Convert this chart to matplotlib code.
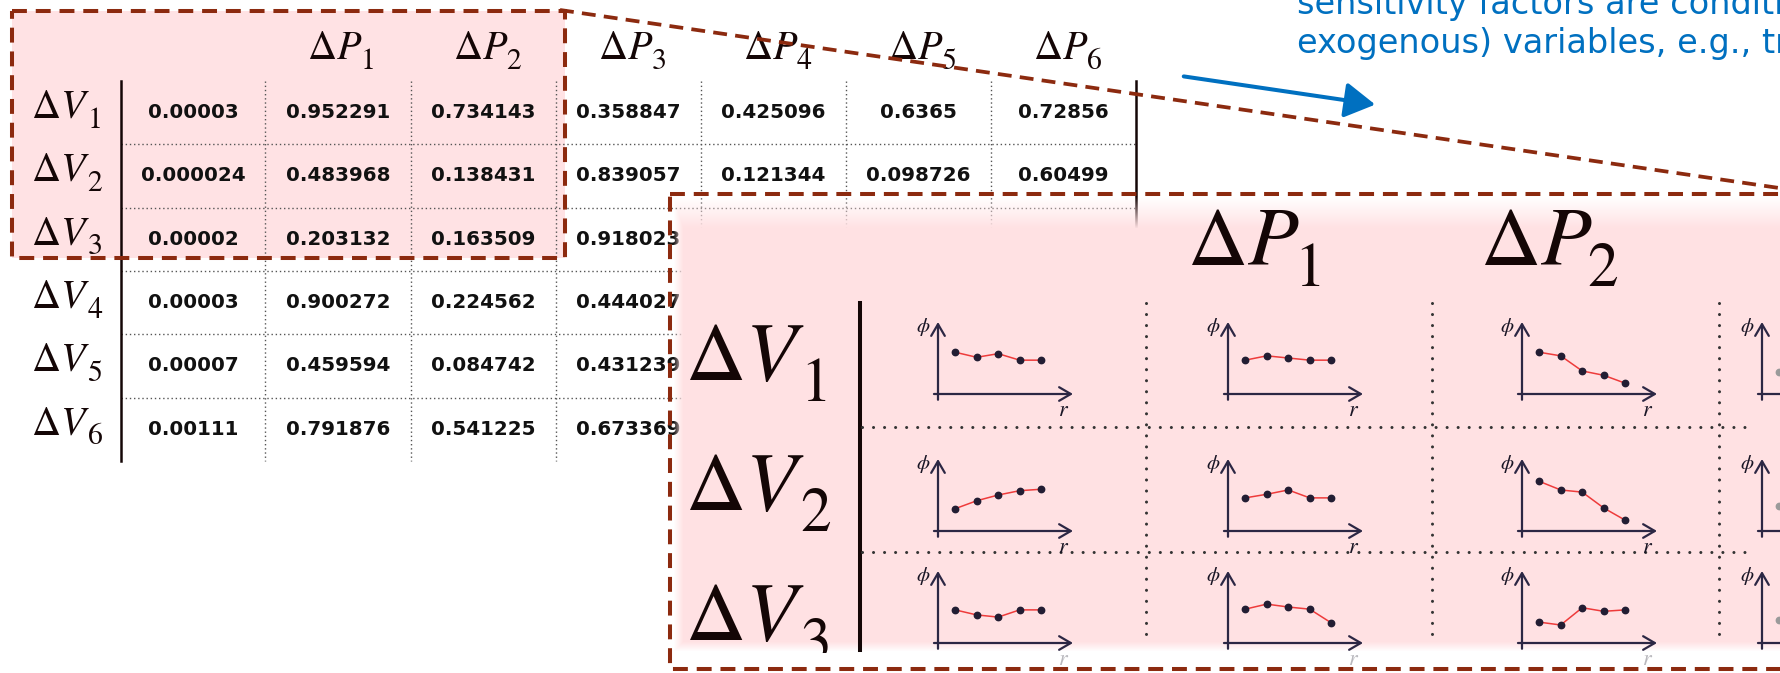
import numpy as np
import matplotlib
matplotlib.use('Agg')
import matplotlib.pyplot as plt
from matplotlib.patches import Rectangle, FancyArrowPatch

plt.rcParams['mathtext.fontset'] = 'stix'

# ---------------- data ----------------
row_symbol = r'$\Delta V$'
row_index = ['1', '2', '3', '4', '5', '6']
col_symbol = r'$\Delta P$'
col_index = ['', '1', '2', '3', '4', '5', '6']
row_V1 = ['0.00003', '0.952291', '0.734143', '0.358847', '0.425096', '0.6365', '0.72856']
row_V2 = ['0.000024', '0.483968', '0.138431', '0.839057', '0.121344', '0.098726', '0.60499']
row_V3 = ['0.00002', '0.203132', '0.163509', '0.918023', None, None, None]
row_V4 = ['0.00003', '0.900272', '0.224562', '0.444027', None, None, None]
row_V5 = ['0.00007', '0.459594', '0.084742', '0.431239', None, None, None]
row_V6 = ['0.00111', '0.791876', '0.541225', '0.673369', None, None, None]
table_rows = [row_V1, row_V2, row_V3, row_V4, row_V5, row_V6]

zoom_row_index = ['1', '2', '3']
zoom_col_index = ['1', '2']
r_index = [1, 2, 3, 4, 5]
phi_V1 = [[0.58, 0.51, 0.56, 0.47, 0.47],
          [0.47, 0.53, 0.50, 0.47, 0.47],
          [0.58, 0.53, 0.32, 0.26, 0.15],
          [0.31]]
phi_V2 = [[0.31, 0.42, 0.50, 0.56, 0.58],
          [0.46, 0.51, 0.57, 0.46, 0.46],
          [0.69, 0.57, 0.54, 0.32, 0.15],
          [0.35]]
phi_V3 = [[0.46, 0.39, 0.36, 0.46, 0.46],
          [0.47, 0.54, 0.50, 0.47, 0.28],
          [0.29, 0.25, 0.49, 0.44, 0.46],
          [0.32]]
phi_rows = [phi_V1, phi_V2, phi_V3]

text_line1 = 'sensitivity factors are conditi'
text_line2 = 'exogenous) variables, e.g., tr'

# ---------------- style ----------------
W, H = 1780, 673
PINK = (1.0, 0.886, 0.894)
BROWN = '#8c2a0f'
INK = '#140606'
BLUE = '#0070c0'
AXC = '#2c2744'
DASH = (0, (3.7, 2.2))

fig = plt.figure(figsize=(W / 100, H / 100), dpi=100)
ax = fig.add_axes([0, 0, 1, 1])
ax.set_xlim(0, W)
ax.set_ylim(H, 0)
ax.axis('off')


def sub_label(x, y, main, sub, fs, z, clip=None):
    """Main symbol centred at x (baseline y) with a large, low subscript."""
    t = ax.text(x, y, main, fontsize=fs, color=INK, ha='center', va='baseline', zorder=z)
    s = ax.annotate(r'$%s$' % sub, xy=(1, y), xycoords=(t, 'data'),
                    xytext=(-0.06 * fs, -0.25 * fs), textcoords='offset points',
                    fontsize=0.74 * fs, color=INK, ha='left', va='baseline',
                    zorder=z, annotation_clip=False)
    if clip is not None:
        t.set_clip_path(clip)
        s.set_clip_path(clip)


# ---------------- small table ----------------
col_edges = [121, 265, 411, 556, 701, 846, 991, 1136]
row_top, row_h = 81, 63.3
row_c = [row_top + row_h * (i + 0.5) for i in range(len(row_index))]
tbl_bottom = row_top + row_h * len(row_index)

ax.add_patch(Rectangle((12, 11), 553, 247, facecolor=PINK, edgecolor='none', zorder=0))

for i, idx in enumerate(row_index):
    sub_label(60, row_c[i] + 5, row_symbol, idx, 29, 2)
for j, idx in enumerate(col_index):
    if idx:
        cx = (col_edges[j] + col_edges[j + 1]) / 2
        sub_label(cx - 3, 59, col_symbol, idx, 29, 2)
for i, vals in enumerate(table_rows):
    for j, v in enumerate(vals):
        if v is None:
            continue
        cx = (col_edges[j] + col_edges[j + 1]) / 2
        ax.text(cx, row_c[i], v, fontsize=14.3, fontweight='bold', color='#111111',
                ha='center', va='center', zorder=2)

for x in col_edges[1:-1]:
    ax.plot([x, x], [row_top, tbl_bottom], color='#555555', lw=1.0,
            linestyle=(0, (1, 2)), zorder=1)
for k in range(1, len(row_index)):
    y = row_top + row_h * k
    ax.plot([col_edges[0], col_edges[-1]], [y, y], color='#555555', lw=1.0,
            linestyle=(0, (1, 2)), zorder=1)
ax.plot([col_edges[0]] * 2, [row_top, tbl_bottom], color=INK, lw=1.8, zorder=2)
ax.plot([col_edges[-1]] * 2, [row_top, 235], color=INK, lw=1.8, zorder=2)

# small dashed box and projection line
ax.add_patch(Rectangle((12, 11), 553, 247, facecolor='none', edgecolor=BROWN, lw=2.9,
                       linestyle=DASH, zorder=4))
ax.plot([560, 1900], [10, 10 + 1340 * 0.146], color=BROWN, lw=2.7, linestyle=DASH, zorder=4)

# ---------------- big zoom box ----------------
bx0, by0, by1 = 670, 194, 669
xs = np.arange(bx0, W + 1)
ys = np.arange(by0, by1 + 1)
XX, YY = np.meshgrid(xs, ys)
alpha = np.clip(np.minimum.reduce([(XX - bx0 - 3) / 10.0, (YY - by0 - 2) / 32.0,
                                   (652 - YY) / 10.0]), 0, 1)
rgba = np.zeros(XX.shape + (4,))
rgba[..., 0], rgba[..., 1], rgba[..., 2] = PINK
rgba[..., 3] = alpha
ax.imshow(rgba, extent=(bx0, W, by1, by0), origin='upper', aspect='auto',
          interpolation='bilinear', zorder=5)
ax.set_xlim(0, W)
ax.set_ylim(H, 0)
ax.add_patch(Rectangle((bx0, by0), 1300, by1 - by0, facecolor='none', edgecolor=BROWN,
                       lw=2.9, linestyle=DASH, zorder=6))

inner_clip = Rectangle((bx0, by0), W - bx0, 653 - by0, transform=ax.transData,
                       facecolor='none', edgecolor='none')
ax.add_patch(inner_clip)

big_rows_base = [380, 510, 640]
for i, idx in enumerate(zoom_row_index):
    sub_label(745, big_rows_base[i], row_symbol, idx, 60, 7, clip=inner_clip)
big_head_x = [1243, 1536]
for j, idx in enumerate(zoom_col_index):
    sub_label(big_head_x[j], 265, col_symbol, idx, 60, 7, clip=inner_clip)

ax.plot([860, 860], [303, 650], color=INK, lw=2.9, zorder=7)
for x in [1146, 1432, 1719]:
    ax.plot([x, x], [303, 642], color='#333333', lw=2.2, linestyle=(0, (0.01, 3.6)),
            dash_capstyle='round', zorder=7)
for y in [427, 552]:
    ax.plot([862, 1745], [y, y], color='#333333', lw=2.2, linestyle=(0, (0.01, 3.6)),
            dash_capstyle='round', zorder=7)

# mini charts
axis_x = [938, 1228, 1522, 1762]
axis_y = [394, 531, 643]
mw, mh = 135, 72
for i, prow in enumerate(phi_rows):
    for j, phi in enumerate(prow):
        x0, y0 = axis_x[j], axis_y[i]
        m = fig.add_axes([x0 / W, 1 - y0 / H, mw / W, mh / H])
        m.set_xlim(0.2, 0.2 + mw / 21.5)
        m.set_ylim(0, 1)
        m.axis('off')
        m.patch.set_visible(False)
        m.annotate('', xy=(1, 0), xytext=(-0.03, 0), xycoords='axes fraction',
                   arrowprops=dict(arrowstyle='->,head_length=0.6,head_width=0.35',
                                   color=AXC, lw=1.6, shrinkA=0, shrinkB=0,
                                   mutation_scale=14), annotation_clip=False)
        m.annotate('', xy=(0, 1), xytext=(0, -0.08), xycoords='axes fraction',
                   arrowprops=dict(arrowstyle='->,head_length=0.6,head_width=0.35',
                                   color=AXC, lw=1.6, shrinkA=0, shrinkB=0,
                                   mutation_scale=14), annotation_clip=False)
        m.text(-0.11, 0.93, r'$\phi$', transform=m.transAxes, fontsize=15,
               color='#1a1626', ha='center', va='center', clip_on=False)
        m.text(0.93, -0.22, r'$r$', transform=m.transAxes, fontsize=16,
               color='#1a1626', ha='center', va='center', clip_on=False,
               alpha=0.3 if i == 2 else 1.0)
        rr = r_index[:len(phi)]
        if len(phi) > 1:
            m.plot(rr, phi, color='#ee3b3b', lw=1.1, zorder=2, clip_on=False)
            m.plot(rr, phi, 'o', color='#221d33', ms=4.6, zorder=3, clip_on=False)
        else:
            m.plot(rr, phi, 'o', color='#9a9a9a', ms=4.6, zorder=3, clip_on=False)

# ---------------- annotation text and arrow ----------------
ax.text(1297, 14, text_line1, fontsize=24.2, color=BLUE, ha='left', va='baseline', zorder=8)
ax.text(1297, 53, text_line2, fontsize=24.2, color=BLUE, ha='left', va='baseline', zorder=8)
ax.add_patch(FancyArrowPatch((1181, 76), (1378, 105),
                             arrowstyle='-|>,head_length=0.62,head_width=0.36',
                             mutation_scale=30, color=BLUE, lw=2.9, zorder=8))

fig.savefig('out.png', dpi=100)
